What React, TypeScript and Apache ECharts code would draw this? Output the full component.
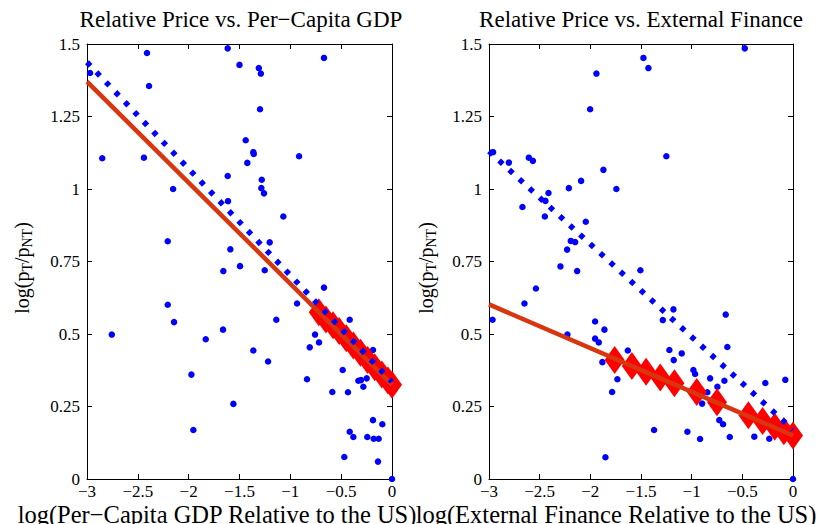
import React, { useEffect, useRef } from "react";
import * as echarts from "echarts";

// ---------- data ----------
const xTicksMin = -3;
const xTicksMax = 0;
const yTicksMin = 0;
const yTicksMax = 1.5;

const titles = ["Relative Price vs. Per\u2212Capita GDP", "Relative Price vs. External Finance"];
const xLabels = ["log(Per\u2212Capita GDP Relative to the US)", "log(External Finance Relative to the US)"];

const gdpPoints: [number, number][] = [
  [-2.97, 1.4], [-2.41, 1.469], [-2.39, 1.355], [-2.85, 1.106], [-2.44, 1.108], [-1.616, 1.485],
  [-1.5, 1.428], [-1.616, 1.045], [-2.153, 1.0], [-1.31, 1.417], [-1.29, 1.398], [-0.669, 1.452],
  [-1.298, 1.275], [-1.439, 1.168], [-1.364, 1.127], [-1.36, 1.121], [-0.914, 1.113], [-1.423, 1.09],
  [-1.281, 1.032], [-1.285, 1.003], [-1.259, 0.985], [-1.613, 0.958], [-2.206, 0.82], [-2.206, 0.601],
  [-2.144, 0.541], [-2.756, 0.498], [-1.832, 0.482], [-1.662, 0.515], [-1.659, 0.717], [-1.59, 0.792],
  [-1.495, 0.734], [-1.069, 0.905], [-1.203, 0.816], [-1.252, 0.72], [-0.669, 0.66], [-0.934, 0.605],
  [-1.138, 0.549], [-0.416, 0.549], [-0.757, 0.498], [-1.973, 0.36], [-1.954, 0.169], [-1.56, 0.259],
  [-1.364, 0.443], [-1.219, 0.405], [-0.809, 0.454], [-0.718, 0.471], [-0.836, 0.344], [-0.485, 0.376],
  [-0.587, 0.3], [-0.433, 0.299], [-0.331, 0.339], [-0.305, 0.341], [-0.249, 0.347], [-0.282, 0.318],
  [-0.187, 0.445], [-0.187, 0.203], [-0.095, 0.189], [-0.416, 0.163], [-0.38, 0.145], [-0.243, 0.145],
  [-0.18, 0.139], [-0.131, 0.139], [-0.469, 0.076], [-0.138, 0.06], [0, 0],
];

const finPoints: [number, number][] = [
  [-2.96, 1.127], [-2.804, 1.091], [-2.607, 1.108], [-2.567, 1.097], [-2.002, 1.275], [-1.94, 1.398],
  [-1.871, 1.066], [-2.091, 1.028], [-2.212, 1.003], [-1.743, 1.0], [-1.476, 1.452], [-1.427, 1.417],
  [-0.476, 1.485], [-1.25, 1.113], [-2.413, 0.986], [-2.443, 0.959], [-2.67, 0.938], [-2.449, 0.905],
  [-2.045, 0.887], [-2.193, 0.821], [-2.15, 0.817], [-2.229, 0.791], [-2.295, 0.733], [-2.13, 0.717],
  [-1.506, 0.72], [-2.537, 0.657], [-2.65, 0.605], [-2.965, 0.549], [-1.953, 0.543], [-1.861, 0.515],
  [-2.226, 0.498], [-1.953, 0.484], [-1.917, 0.471], [-1.18, 0.585], [-1.285, 0.548], [-0.664, 0.567],
  [-1.881, 0.403], [-1.63, 0.443], [-1.733, 0.344], [-1.785, 0.3], [-1.851, 0.075], [-1.22, 0.445],
  [-1.098, 0.433], [-1.177, 0.41], [-0.648, 0.455], [-0.983, 0.376], [-0.966, 0.362], [-0.818, 0.347],
  [-0.677, 0.339], [-0.746, 0.318], [-0.845, 0.299], [-0.897, 0.26], [-0.273, 0.331], [-0.076, 0.342],
  [-0.727, 0.203], [-0.69, 0.189], [-1.371, 0.169], [-1.042, 0.163], [-0.917, 0.138], [-0.624, 0.145],
  [-0.382, 0.146], [-0.234, 0.139], [-0.247, 0.18], [0, 0],
];

// fitted lines (endpoints at x = -3 and x = 0)
const gdpFitSolid: [number, number][] = [[-3, 1.37], [0, 0.325]];
const gdpFitDotted: [number, number][] = [[-3, 1.437], [0, 0.335]];
const finFitSolid: [number, number][] = [[-3, 0.602], [0, 0.15]];
const finFitDotted: [number, number][] = [[-3, 1.13], [0, 0.17]];

// highlighted observations (red diamonds)
const gdpDiamonds: [number, number][] = [
  [-0.72, 0.575], [-0.65, 0.55], [-0.58, 0.53], [-0.52, 0.51], [-0.45, 0.485], [-0.38, 0.46],
  [-0.31, 0.435], [-0.24, 0.41], [-0.17, 0.385], [-0.1, 0.36], [-0.04, 0.34], [0, 0.325],
];
const finDiamonds: [number, number][] = [
  [-1.76, 0.41], [-1.59, 0.39], [-1.45, 0.37], [-1.31, 0.35], [-1.17, 0.33], [-0.95, 0.3],
  [-0.75, 0.265], [-0.44, 0.22], [-0.3, 0.2], [-0.18, 0.18], [-0.09, 0.165], [0, 0.15],
];

// ---------- styles ----------
const FONT = "Liberation Serif";
const BLUE = "#0000ff";
const RED_LINE = "#d8360f";
const RED_MARK = "#ff0000";

const fmtX = (v: number) => String(v).replace("-", "\u2212");

export default function App() {
  const ref = useRef<HTMLDivElement>(null);
  useEffect(() => {
    if (!ref.current) return;
    const chart = echarts.init(ref.current, null, { renderer: "svg" });
    const grids = [
      { left: 87, top: 44, width: 305, height: 435 },
      { left: 489, top: 44, width: 304, height: 435 },
    ];
    const xAxis: any[] = [];
    const yAxis: any[] = [];
    grids.forEach((_, gi) => {
      ["bottom", "top"].forEach((pos, k) => {
        xAxis.push({
          type: "value", gridIndex: gi, position: pos, min: xTicksMin, max: xTicksMax, interval: 0.5,
          axisLine: { show: true, onZero: false, lineStyle: { color: "#000", width: 1 } },
          axisTick: { show: true, inside: true, length: 5, lineStyle: { color: "#000" } },
          axisLabel: { show: k === 0, formatter: fmtX, color: "#000", fontFamily: FONT, fontSize: 17, margin: 4 },
          splitLine: { show: false },
        });
      });
      ["left", "right"].forEach((pos, k) => {
        yAxis.push({
          type: "value", gridIndex: gi, position: pos, min: yTicksMin, max: yTicksMax, interval: 0.25,
          axisLine: { show: true, onZero: false, lineStyle: { color: "#000", width: 1 } },
          axisTick: { show: true, inside: true, length: 5, lineStyle: { color: "#000" } },
          axisLabel: { show: k === 0, color: "#000", fontFamily: FONT, fontSize: 17, margin: 7 },
          splitLine: { show: false },
        });
      });
    });

    const panel = (gi: number, pts: any, dia: any, solid: any, dotted: any) => [
      {
        type: "scatter", xAxisIndex: gi * 2, yAxisIndex: gi * 2, data: pts, symbol: "circle",
        symbolSize: 6.5, itemStyle: { color: BLUE, opacity: 1 }, clip: false, z: 2,
      },
      {
        type: "scatter", xAxisIndex: gi * 2, yAxisIndex: gi * 2, data: dia, symbol: "diamond",
        symbolSize: [20, 28], itemStyle: { color: RED_MARK, opacity: 1 }, clip: false, z: 3,
      },
      {
        type: "line", xAxisIndex: gi * 2, yAxisIndex: gi * 2, data: solid, symbol: "none",
        lineStyle: { color: RED_LINE, width: 4.5, opacity: 1 }, z: 4, clip: false,
      },
      {
        type: "line", xAxisIndex: gi * 2, yAxisIndex: gi * 2, data: dotted, symbol: "none",
        lineStyle: { color: BLUE, width: 5.5, type: [5, 8.7], cap: "butt", opacity: 1 }, z: 5, clip: false,
      },
    ];

    const ylabelRich = {
      a: { fontFamily: FONT, fontSize: 20, lineHeight: 24, fill: "#000" },
      s: { fontFamily: FONT, fontSize: 14, lineHeight: 14, verticalAlign: "bottom", fill: "#000" },
    };
    const ylabel = (x: number) => ({
      type: "text", x, y: 268, rotation: Math.PI / 2,
      style: {
        text: "{a|log(p}{s|T}{a|/p}{s|NT}{a|)}", rich: ylabelRich,
        align: "center", verticalAlign: "middle", fill: "#000",
      },
    });

    chart.setOption({
      animation: false,
      backgroundColor: "#fff",
      grid: grids,
      xAxis,
      yAxis,
      series: [
        ...panel(0, gdpPoints, gdpDiamonds, gdpFitSolid, gdpFitDotted),
        ...panel(1, finPoints, finDiamonds, finFitSolid, finFitDotted),
      ],
      graphic: [
        { type: "text", x: 241, y: 19, style: { text: titles[0], font: `23px '${FONT}'`, align: "center", verticalAlign: "middle", fill: "#000" } },
        { type: "text", x: 641, y: 19, style: { text: titles[1], font: `23px '${FONT}'`, align: "center", verticalAlign: "middle", fill: "#000" } },
        { type: "text", x: 217, y: 514, style: { text: xLabels[0], font: `24.5px '${FONT}'`, align: "center", verticalAlign: "middle", fill: "#000" } },
        { type: "text", x: 616, y: 514, style: { text: xLabels[1], font: `24.5px '${FONT}'`, align: "center", verticalAlign: "middle", fill: "#000" } },
        ylabel(22),
        ylabel(426),
      ],
    });
    return () => chart.dispose();
  }, []);
  return <div ref={ref} style={{ width: 828, height: 524, position: "absolute", left: 0, top: 0 }} />;
}
